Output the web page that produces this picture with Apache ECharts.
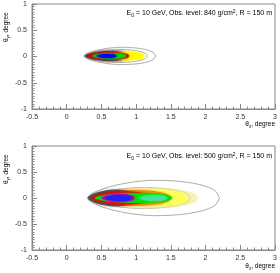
<!DOCTYPE html>
<html><head><meta charset="utf-8">
<script src="https://cdn.jsdelivr.net/npm/echarts@6/dist/echarts.min.js"></script>
<style>html,body{margin:0;padding:0;background:#fff}#c{width:280px;height:273px}</style>
</head><body><div id="c"></div>
<script>
// axis ticks
var xTicks = [-0.5, 0, 0.5, 1, 1.5, 2, 2.5, 3];
var yTicks = [-1, -0.5, 0, 0.5, 1];
var titles = ['840', '500'];
// layers: [xStart, xEnd, halfHeight, yCenter], drawn outer -> inner
var topLayers = [
  [0.24, 0.96, 0.115, 0.01],
  [0.26, 0.92, 0.095, 0.01],
  [0.60, 1.12, 0.085, 0.01],
  [0.30, 0.90, 0.075, 0.01],
  [0.37, 0.86, 0.055, 0.01],
  [0.43, 0.72, 0.038, 0.01]
];
var topLines = [
  [0.25, 1.28, 0.165, 0.01],
  [0.27, 1.16, 0.125, 0.01]
];
var botLayers = [
  [0.30, 1.90, 0.20, 0.0],
  [0.85, 1.75, 0.16, 0.0],
  [0.30, 1.05, 0.16, 0.0],
  [0.45, 1.50, 0.15, 0.0],
  [0.36, 1.20, 0.13, 0.0],
  [0.40, 1.52, 0.095, 0.0],
  [1.05, 1.45, 0.06, 0.0],
  [0.50, 0.98, 0.075, 0.0],
  [0.55, 0.94, 0.055, 0.0]
];
var botLines = [
  [0.30, 2.20, 0.34, 0.0],
  [0.32, 1.78, 0.20, 0.0],
  [0.35, 1.52, 0.15, 0.0]
];
var topColors = ['rgba(170,170,170,0.8)', 'rgba(60,60,60,0.85)', '#ffff00', '#e80000', '#00d000', '#0000ff'];
var botColors = ['rgba(240,235,150,0.55)', 'rgba(255,255,80,0.75)', 'rgba(70,70,70,0.85)', 'rgba(240,140,0,0.9)', '#f00000', '#00e000', 'rgba(60,230,150,1)', '#c000c0', '#2020ff'];

function shapeItem(params, api) {
  var x0 = api.value(0), x1 = api.value(1), h = api.value(2), yc = api.value(3);
  var xm = x0 + (x1 - x0) * 0.5;
  var top = [], bot = [];
  var N = 40;
  for (var i = 0; i <= N; i++) {
    var x = x0 + (x1 - x0) * i / N, y;
    if (x < xm) { var u = (xm - x) / (xm - x0); y = h * Math.pow(Math.max(0, 1 - Math.pow(u, 1.6)), 1 / 1.6); }
    else { var v = (x - xm) / (x1 - xm); y = h * Math.pow(Math.max(0, 1 - Math.pow(v, 2.2)), 1 / 2.2); }
    top.push(api.coord([x, yc + y]));
    bot.unshift(api.coord([x, yc - y]));
  }
  return { type: 'polygon', shape: { points: top.concat(bot), smooth: 0.3 }, style: api.style() };
}

function fillData(layers, colors) {
  return layers.map(function (l, i) {
    return { value: l, itemStyle: { color: colors[i], shadowBlur: 2, shadowColor: colors[i] } };
  });
}
function lineData(layers) {
  return layers.map(function (l) {
    return { value: l, itemStyle: { color: 'none', borderColor: '#aaa', borderWidth: 1 } };
  });
}

var chart = echarts.init(document.getElementById('c'), null, { renderer: 'canvas' });
var axisLbl = { fontSize: 7, color: '#333', fontFamily: 'Liberation Sans', margin: 5 };
function xAx(gi) {
  return {
    gridIndex: gi, type: 'value', min: -0.5, max: 3, interval: 0.5,
    axisLine: { onZero: false, lineStyle: { color: '#888', width: 1 } },
    axisTick: { inside: true, length: 5, lineStyle: { color: '#888' } },
    minorTick: { show: true, splitNumber: 5, length: 2.5, lineStyle: { color: '#888' } },
    splitLine: { show: false },
    axisLabel: Object.assign({ formatter: function (v) { return xTicks.indexOf(v) >= 0 ? String(v) : ''; } }, axisLbl)
  };
}
function yAx(gi) {
  return {
    gridIndex: gi, type: 'value', min: -1, max: 1, interval: 0.5,
    axisLine: { show: true, onZero: false, lineStyle: { color: '#888', width: 1 } },
    axisTick: { show: true, inside: true, length: 5, lineStyle: { color: '#888' } },
    minorTick: { show: true, splitNumber: 10, length: 2.5, lineStyle: { color: '#888' } },
    splitLine: { show: false },
    axisLabel: Object.assign({ formatter: function (v) { return yTicks.indexOf(v) >= 0 ? String(v) : ''; } }, axisLbl)
  };
}
var titleRich = {
  n: { fontSize: 7, color: '#333', fontFamily: 'Liberation Sans' },
  s: { fontSize: 5, color: '#333', fontFamily: 'Liberation Sans', verticalAlign: 'bottom', padding: [4, 0, 0, 0] },
  p: { fontSize: 5, color: '#333', fontFamily: 'Liberation Sans', verticalAlign: 'top', padding: [0, 0, 4, 0] }
};
var nameRich = {
  n: { fontSize: 6.5, color: '#333', fontFamily: 'Liberation Sans' },
  s: { fontSize: 4.5, color: '#333', fontFamily: 'Liberation Sans', verticalAlign: 'bottom', padding: [4, 0, 0, 0] }
};
function titleText(lv) {
  return '{n|E}{s|0}{n| = 10 GeV, Obs. level: ' + lv + ' g/cm}{p|2}{n|, R = 150 m}';
}
function axisName(t, sub) {
  return '{n|' + t + '}{s|' + sub + '}{n|, degree}';
}
chart.setOption({
  animation: false,
  grid: [
    { left: 32, right: 5, top: 4, height: 105, show: true, borderColor: '#888', borderWidth: 1, backgroundColor: '#fff' },
    { left: 32, right: 5, top: 146, height: 104, show: true, borderColor: '#888', borderWidth: 1, backgroundColor: '#fff' }
  ],
  xAxis: [xAx(0), xAx(1)],
  yAxis: [yAx(0), yAx(1)],
  graphic: [
    { type: 'text', right: 8, top: 9, style: { text: titleText(titles[0]), rich: titleRich } },
    { type: 'text', right: 8, top: 152, style: { text: titleText(titles[1]), rich: titleRich } },
    { type: 'text', right: 5, top: 121, style: { text: axisName('θ', 'x'), rich: nameRich } },
    { type: 'text', right: 5, top: 263, style: { text: axisName('θ', 'x'), rich: nameRich } },
    { type: 'text', x: 2, y: 42, rotation: Math.PI / 2, style: { text: axisName('θ', 'y'), rich: nameRich } },
    { type: 'text', x: 2, y: 184, rotation: Math.PI / 2, style: { text: axisName('θ', 'y'), rich: nameRich } }
  ],
  series: [
    { type: 'custom', xAxisIndex: 0, yAxisIndex: 0, renderItem: shapeItem, data: lineData(topLines), encode: { x: [0, 1], y: 3 }, clip: true },
    { type: 'custom', xAxisIndex: 0, yAxisIndex: 0, renderItem: shapeItem, data: fillData(topLayers, topColors), encode: { x: [0, 1], y: 3 }, clip: true },
    { type: 'custom', xAxisIndex: 1, yAxisIndex: 1, renderItem: shapeItem, data: lineData(botLines), encode: { x: [0, 1], y: 3 }, clip: true },
    { type: 'custom', xAxisIndex: 1, yAxisIndex: 1, renderItem: shapeItem, data: fillData(botLayers, botColors), encode: { x: [0, 1], y: 3 }, clip: true }
  ]
});
</script></body></html>
